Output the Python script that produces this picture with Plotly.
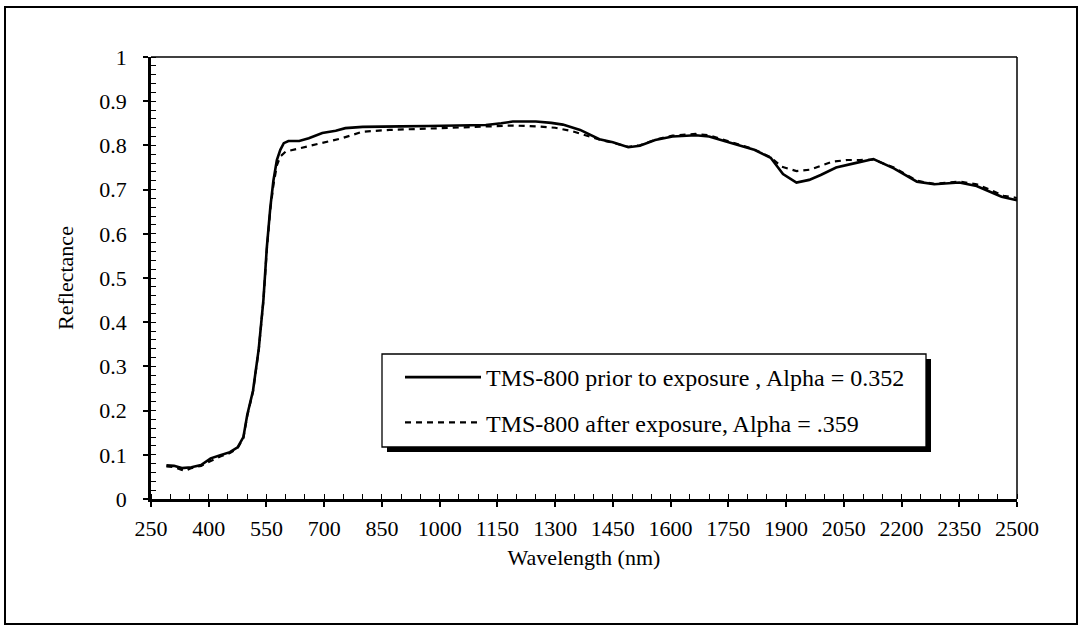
import plotly.graph_objects as go

# Spectral reflectance of TMS-800 before and after exposure
wl_prior = [290, 310, 330, 355, 380, 405, 430, 455, 475, 490,
            500, 515, 530, 542, 551, 560, 568, 577, 586, 595,
            607, 635, 660, 695, 730, 755, 800, 850, 900, 970,
            1050, 1120, 1160, 1190, 1250, 1290, 1320, 1365, 1415, 1450,
            1490, 1520, 1560, 1605, 1665, 1700, 1755, 1815, 1860, 1892,
            1927, 1960, 1990, 2030, 2085, 2127, 2180, 2240, 2285, 2350,
            2395, 2430, 2460, 2500]
refl_prior = [0.076, 0.075, 0.070, 0.072, 0.077, 0.092, 0.099, 0.106, 0.117, 0.140,
              0.190, 0.245, 0.340, 0.450, 0.570, 0.660, 0.720, 0.767, 0.790, 0.805,
              0.810, 0.810, 0.816, 0.828, 0.833, 0.839, 0.842, 0.842, 0.843, 0.844,
              0.845, 0.846, 0.850, 0.854, 0.854, 0.851, 0.847, 0.835, 0.814, 0.807,
              0.796, 0.799, 0.812, 0.820, 0.823, 0.820, 0.806, 0.791, 0.772, 0.735,
              0.716, 0.722, 0.733, 0.750, 0.761, 0.769, 0.748, 0.718, 0.712, 0.716,
              0.708, 0.695, 0.684, 0.676]

wl_after = [290, 310, 330, 340, 355, 380, 405, 430, 455, 475,
            490, 500, 515, 530, 542, 551, 560, 568, 577, 586,
            600, 640, 695, 745, 800, 870, 970, 1050, 1120, 1160,
            1190, 1250, 1300, 1345, 1390, 1420, 1450, 1490, 1520, 1560,
            1605, 1665, 1700, 1755, 1815, 1860, 1888, 1927, 1962, 2020,
            2060, 2092, 2127, 2180, 2240, 2285, 2350, 2395, 2430, 2465,
            2500]
refl_after = [0.074, 0.072, 0.066, 0.064, 0.070, 0.075, 0.086, 0.096, 0.104, 0.115,
              0.138, 0.188, 0.243, 0.338, 0.448, 0.565, 0.655, 0.710, 0.755, 0.775,
              0.786, 0.794, 0.806, 0.816, 0.831, 0.835, 0.838, 0.840, 0.842, 0.844,
              0.845, 0.843, 0.840, 0.832, 0.819, 0.812, 0.806, 0.797, 0.800, 0.813,
              0.822, 0.826, 0.823, 0.808, 0.792, 0.773, 0.752, 0.742, 0.745, 0.763,
              0.767, 0.767, 0.768, 0.750, 0.720, 0.713, 0.718, 0.712, 0.700, 0.686,
              0.681]

x_ticks = list(range(250, 2501, 150))
y_ticks = [0, 0.1, 0.2, 0.3, 0.4, 0.5, 0.6, 0.7, 0.8, 0.9, 1]
y_tick_text = ["0", "0.1", "0.2", "0.3", "0.4", "0.5", "0.6", "0.7", "0.8", "0.9", "1"]

label_prior = "TMS-800 prior to exposure , Alpha = 0.352"
label_after = "TMS-800 after exposure, Alpha = .359"

W, H = 1083, 637
L, R, T, B = 151, 1017, 57, 499
FONT = "Liberation Serif"


def px(xp):
    return (xp - L) / (R - L)


def py(yp):
    return (B - yp) / (B - T)


fig = go.Figure()
fig.add_trace(go.Scatter(
    x=wl_after, y=refl_after, mode="lines", name=label_after,
    line=dict(color="black", width=2.2, dash="6px,5px"),
    legendgroup="b", legendrank=2,
))
fig.add_trace(go.Scatter(
    x=wl_prior, y=refl_prior, mode="lines", name=label_prior,
    line=dict(color="black", width=2.6),
    legendgroup="a", legendrank=1,
))

axis_font = dict(family=FONT, size=22, color="black")

fig.update_layout(
    width=W, height=H,
    margin=dict(l=L, r=W - R, t=T, b=H - B),
    paper_bgcolor="white", plot_bgcolor="white",
    font=dict(family=FONT, color="black"),
    showlegend=True,
    legend=dict(
        x=px(400), y=py(355), xanchor="left", yanchor="top",
        bgcolor="rgba(0,0,0,0)", borderwidth=0,
        font=dict(family=FONT, size=24, color="black"),
        traceorder="grouped", tracegroupgap=11,
        itemwidth=76,
    ),
    xaxis=dict(
        range=[250, 2500], tickvals=x_ticks, ticktext=[str(v) for v in x_ticks],
        showgrid=False, zeroline=False,
        showline=True, linecolor="black", linewidth=2.5,
        ticks="outside", ticklen=5, tickwidth=1.5, tickcolor="black",
        ticklabelstandoff=3,
        minor=dict(dtick=50, tick0=250, ticks="inside", ticklen=5,
                   tickwidth=1.3, tickcolor="black", showgrid=False),
        tickfont=axis_font,
        title=dict(text="Wavelength (nm)", font=axis_font, standoff=10),
    ),
    yaxis=dict(
        range=[0, 1], tickvals=y_ticks, ticktext=y_tick_text,
        showgrid=False, zeroline=False,
        showline=True, linecolor="black", linewidth=2.5,
        ticks="outside", ticklen=5, tickwidth=1.5, tickcolor="black",
        ticklabelstandoff=12,
        minor=dict(dtick=0.02, tick0=0, ticks="inside", ticklen=5,
                   tickwidth=1.3, tickcolor="black", showgrid=False),
        tickfont=axis_font,
        title=dict(text="Reflectance", font=axis_font, standoff=20),
    ),
    # inner halves of the major ticks, so they cross the axis lines
    xaxis2=dict(
        overlaying="x", anchor="y", side="bottom", range=[250, 2500],
        tickvals=x_ticks, showticklabels=False, showgrid=False, zeroline=False,
        showline=False, ticks="inside", ticklen=6, tickwidth=1.5, tickcolor="black",
    ),
    yaxis2=dict(
        overlaying="y", anchor="x", side="left", range=[0, 1],
        tickvals=y_ticks, showticklabels=False, showgrid=False, zeroline=False,
        showline=False, ticks="inside", ticklen=6, tickwidth=1.5, tickcolor="black",
    ),
)

shapes = [
    # outer frame around the whole chart
    dict(type="rect", xref="paper", yref="paper",
         x0=px(5), x1=px(1077), y0=py(624), y1=py(7),
         line=dict(color="black", width=2), fillcolor="rgba(0,0,0,0)", layer="below"),
    # plot area border (top and right sides)
    dict(type="line", xref="paper", yref="paper",
         x0=0, x1=1, y0=1, y1=1, line=dict(color="black", width=1.5)),
    dict(type="line", xref="paper", yref="paper",
         x0=1, x1=1, y0=0, y1=1, line=dict(color="black", width=1.5)),
    # legend box with drop shadow
    dict(type="rect", xref="paper", yref="paper",
         x0=px(387), x1=px(931), y0=py(452), y1=py(359),
         line=dict(width=0), fillcolor="black", layer="above"),
    dict(type="rect", xref="paper", yref="paper",
         x0=px(382), x1=px(926), y0=py(447), y1=py(354),
         line=dict(color="black", width=1.3), fillcolor="white", layer="above"),
]
fig.update_layout(shapes=shapes)

fig.write_html("out.html")
